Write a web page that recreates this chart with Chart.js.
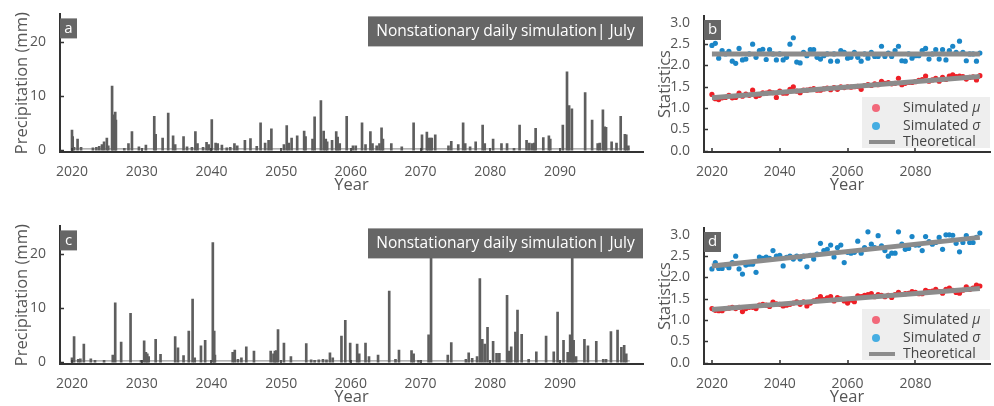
<!DOCTYPE html>
<html>
<head>
<meta charset="utf-8">
<script src="https://cdn.jsdelivr.net/npm/chart.js@4.4.0/dist/chart.umd.min.js"></script>
<style>
  html, body { margin: 0; padding: 0; background: #fff; }
  body { width: 994px; height: 406px; position: relative; overflow: hidden; }
  canvas { position: absolute; }
</style>
</head>
<body>
<canvas id="chartA" width="650" height="200" style="left:0;top:0"></canvas>
<canvas id="chartB" width="344" height="200" style="left:650px;top:0"></canvas>
<canvas id="chartC" width="650" height="200" style="left:0;top:212px"></canvas>
<canvas id="chartD" width="344" height="200" style="left:650px;top:212px"></canvas>
<script>
// ---- daily July rainfall, scenario a (position in decimal years, mm) ----
const spikeYearsA = [2020.0, 2020.1, 2020.3, 2020.8, 2021.3, 2023.0, 2023.5, 2023.9, 2024.3, 2024.6,
  2025.0, 2025.2, 2025.75, 2025.85, 2026.2, 2026.3, 2027.5, 2028.1, 2028.6, 2029.6,
  2030.6, 2031.8, 2032.0, 2033.0, 2033.8, 2034.5, 2034.8, 2036.0, 2036.5, 2037.2,
  2037.7, 2038.0, 2038.8, 2039.3, 2039.6, 2040.05, 2040.6, 2040.9, 2041.5, 2042.2,
  2042.7, 2043.3, 2043.7, 2044.8, 2045.6, 2046.5, 2047.05, 2047.7, 2048.2, 2048.6,
  2050.4, 2050.8, 2051.1, 2051.5, 2052.3, 2053.3, 2053.5, 2054.5, 2054.8, 2055.7,
  2056.1, 2056.4, 2056.6, 2057.3, 2057.9, 2058.1, 2058.4, 2059.4, 2060.3, 2060.7,
  2061.6, 2062.1, 2062.8, 2063.1, 2063.7, 2064.1, 2064.4, 2064.6, 2065.8, 2067.3,
  2069.0, 2070.2, 2070.9, 2071.1, 2071.4, 2071.6, 2072.1, 2074.0, 2074.4, 2075.4,
  2076.1, 2076.4, 2077.1, 2077.9, 2078.9, 2079.2, 2080.4, 2081.6, 2082.4, 2083.4,
  2084.2, 2085.2, 2085.6, 2086.0, 2086.3, 2086.5, 2087.6, 2088.4, 2088.6, 2090.4,
  2091.0, 2091.3, 2091.7, 2093.6, 2094.6, 2095.4, 2095.7, 2096.15, 2096.4, 2096.6,
  2097.4, 2098.1, 2098.7, 2099.3, 2099.5, 2099.8];
const spikeMmA = [3.7, 2.5, 0.5, 2.0, 0.5, 0.4, 0.5, 0.7, 1.0, 1.5,
  2.2, 0.8, 11.8, 6.5, 7.0, 5.5, 0.3, 1.2, 3.4, 0.6,
  0.9, 6.2, 2.9, 2.2, 6.8, 2.6, 1.0, 2.5, 0.6, 0.5,
  3.4, 1.2, 0.5, 1.4, 1.0, 5.6, 1.3, 1.2, 0.9, 0.4,
  0.5, 1.2, 0.8, 1.8, 2.1, 0.7, 5.0, 1.3, 1.8, 3.9,
  1.0, 4.5, 1.3, 2.2, 2.6, 3.5, 2.5, 2.0, 6.1, 9.1,
  3.5, 2.0, 1.5, 1.8, 3.4, 2.4, 1.2, 6.2, 0.8, 0.8,
  5.0, 1.0, 3.4, 1.2, 0.8, 1.2, 4.1, 2.0, 1.2, 0.6,
  5.0, 2.8, 3.3, 2.2, 2.2, 2.2, 2.8, 0.8, 1.6, 1.0,
  5.0, 1.2, 0.6, 1.5, 4.6, 1.2, 2.0, 1.2, 1.2, 0.3,
  4.6, 1.8, 1.3, 1.2, 1.3, 4.0, 2.3, 2.6, 2.0, 4.6,
  14.4, 8.2, 7.6, 10.6, 5.5, 1.2, 1.3, 7.4, 4.3, 4.2,
  1.5, 1.3, 6.2, 2.9, 2.8, 0.8];

// ---- daily July rainfall, scenario c ----
const spikeYearsC = [2020.0, 2020.3, 2020.9, 2021.2, 2021.7, 2022.7, 2023.3, 2024.6, 2025.85, 2026.2,
  2027.05, 2028.4, 2029.9, 2030.35, 2030.6, 2030.8, 2031.0, 2032.0, 2032.7, 2034.8,
  2035.2, 2036.0, 2036.75, 2037.3, 2037.6, 2038.5, 2039.1, 2040.2, 2040.4, 2040.5,
  2043.05, 2043.35, 2043.8, 2044.3, 2045.0, 2046.1, 2048.5, 2048.9, 2049.1, 2049.3,
  2049.55, 2050.4, 2051.4, 2053.6, 2054.3, 2054.8, 2055.4, 2056.0, 2056.5, 2057.0,
  2057.4, 2058.65, 2059.2, 2059.9, 2060.9, 2061.2, 2062.1, 2062.6, 2063.9, 2065.5,
  2066.4, 2066.9, 2068.7, 2069.0, 2069.7, 2071.15, 2071.5, 2073.9, 2074.4, 2076.5,
  2076.9, 2077.4, 2078.1, 2078.5, 2078.85, 2079.2, 2079.6, 2080.4, 2080.9, 2081.3,
  2082.4, 2082.7, 2083.0, 2083.6, 2083.9, 2084.5, 2085.5, 2086.6, 2088.0, 2089.1,
  2089.65, 2090.5, 2091.1, 2091.45, 2091.75, 2091.95, 2092.3, 2093.5, 2094.0, 2095.2,
  2096.2, 2096.6, 2097.3, 2098.25, 2098.8, 2099.2, 2099.5];
const spikeMmC = [0.8, 4.7, 0.5, 0.6, 3.3, 0.6, 0.3, 0.3, 1.3, 10.9,
  3.7, 9.0, 0.3, 3.9, 1.8, 1.5, 1.0, 4.2, 1.4, 4.7,
  2.6, 1.2, 5.7, 11.6, 0.8, 3.0, 4.0, 22.0, 5.7, 1.3,
  1.8, 2.2, 0.5, 0.8, 2.8, 2.0, 2.0, 1.5, 2.0, 2.1,
  6.0, 3.5, 1.0, 3.4, 0.4, 0.3, 0.4, 0.5, 0.4, 1.7,
  0.8, 4.8, 7.7, 3.5, 3.3, 1.5, 3.5, 1.0, 1.3, 13.1,
  0.5, 2.2, 2.1, 1.5, 0.3, 5.0, 24.0, 1.3, 3.6, 0.5,
  1.7, 0.7, 1.0, 15.4, 4.2, 3.3, 6.4, 3.8, 1.6, 1.6,
  12.3, 2.0, 2.8, 5.5, 9.6, 5.1, 0.5, 1.9, 4.8, 1.9,
  9.2, 4.0, 1.8, 5.0, 23.5, 4.0, 1.0, 4.2, 3.0, 3.8,
  0.5, 0.5, 5.6, 5.9, 2.7, 3.1, 1.5];

// drizzle level drawn under every simulated July
const traceMm = 0.2;
const traceSpan = [2020, 2100];

// ---- yearly statistics of the simulated series ----
const statYears = [];
for (let y = 2020; y <= 2099; y++) statYears.push(y);

const muB = [1.32, 1.22, 1.20, 1.24, 1.25, 1.30, 1.24, 1.25, 1.35, 1.28,
  1.33, 1.30, 1.42, 1.27, 1.30, 1.36, 1.35, 1.38, 1.36, 1.25,
  1.40, 1.35, 1.35, 1.44, 1.50, 1.40, 1.36, 1.42, 1.42, 1.44,
  1.46, 1.42, 1.42, 1.45, 1.47, 1.43, 1.48, 1.44, 1.50, 1.48,
  1.50, 1.49, 1.50, 1.51, 1.44, 1.53, 1.55, 1.53, 1.57, 1.55,
  1.63, 1.58, 1.60, 1.57, 1.58, 1.70, 1.55, 1.58, 1.60, 1.60,
  1.62, 1.65, 1.67, 1.75, 1.63, 1.66, 1.70, 1.63, 1.72, 1.67,
  1.75, 1.78, 1.74, 1.75, 1.74, 1.68, 1.72, 1.73, 1.66, 1.76];
const sigmaB = [2.47, 2.52, 2.17, 2.35, 2.27, 2.33, 2.10, 2.05, 2.40, 2.13,
  2.15, 2.27, 2.50, 2.19, 2.35, 2.38, 2.14, 2.37, 2.27, 2.13,
  2.27, 2.13, 2.19, 2.50, 2.65, 2.08, 2.06, 2.31, 2.23, 2.37,
  2.37, 2.19, 2.15, 2.23, 2.27, 2.10, 2.27, 2.10, 2.35, 2.31,
  2.17, 2.19, 2.31, 2.19, 2.10, 2.27, 2.17, 2.31, 2.21, 2.21,
  2.45, 2.21, 2.29, 2.21, 2.35, 2.45, 2.11, 2.10, 2.27, 2.17,
  2.23, 2.23, 2.35, 2.40, 2.15, 2.27, 2.37, 2.15, 2.37, 2.13,
  2.35, 2.45, 2.31, 2.57, 2.31, 2.11, 2.27, 2.27, 2.10, 2.29];
const muD = [1.27, 1.23, 1.22, 1.22, 1.27, 1.28, 1.30, 1.27, 1.30, 1.20,
  1.27, 1.30, 1.30, 1.27, 1.35, 1.37, 1.35, 1.32, 1.42, 1.38,
  1.37, 1.33, 1.35, 1.37, 1.40, 1.43, 1.37, 1.43, 1.33, 1.40,
  1.45, 1.48, 1.55, 1.48, 1.52, 1.55, 1.45, 1.53, 1.50, 1.45,
  1.40, 1.47, 1.43, 1.57, 1.55, 1.58, 1.60, 1.62, 1.55, 1.60,
  1.58, 1.55, 1.58, 1.53, 1.60, 1.65, 1.60, 1.62, 1.63, 1.67,
  1.65, 1.62, 1.62, 1.70, 1.67, 1.68, 1.72, 1.67, 1.63, 1.72,
  1.75, 1.70, 1.65, 1.63, 1.70, 1.78, 1.72, 1.75, 1.82, 1.80];
const sigmaD = [2.20, 2.35, 2.21, 2.21, 2.29, 2.23, 2.35, 2.50, 2.20, 2.08,
  2.29, 2.31, 2.31, 2.12, 2.48, 2.45, 2.48, 2.45, 2.63, 2.50,
  2.52, 2.27, 2.47, 2.50, 2.43, 2.50, 2.43, 2.50, 2.25, 2.52,
  2.43, 2.55, 2.80, 2.63, 2.66, 2.76, 2.48, 2.70, 2.76, 2.35,
  2.59, 2.57, 2.59, 2.85, 2.57, 2.70, 3.07, 2.78, 2.70, 2.98,
  2.74, 2.63, 2.50, 2.57, 2.57, 3.07, 2.78, 2.66, 2.68, 2.96,
  2.76, 2.76, 2.63, 2.96, 2.84, 2.78, 2.82, 2.94, 2.66, 3.00,
  3.00, 2.99, 2.80, 2.60, 2.82, 2.98, 2.82, 2.82, 2.94, 3.04];

// theoretical parameters at the first and last year
const theoryYears = [2020, 2099];
const theoryMuB = [1.24, 1.74];
const theorySigmaB = [2.27, 2.27];
const theoryMuD = [1.25, 1.74];
const theorySigmaD = [2.27, 2.94];

// tick labels
const rainYearTicks = [2020, 2030, 2040, 2050, 2060, 2070, 2080, 2090];
const rainTicks = [0, 10, 20];
const statYearTicks = [2020, 2040, 2060, 2080];
const statTicks = [0, 0.5, 1, 1.5, 2, 2.5, 3];

const panelTitle = 'Nonstationary daily simulation| July';

Chart.defaults.font.family = "'Open Sans', 'Noto Sans', sans-serif";
Chart.defaults.color = '#555';
Chart.defaults.animation = false;

const AXIS = '#333';
const BAR = '#5e5e5e';
const THEORY = '#8c8c8c';
const RED = '#ee1f26';
const BLUE = '#1b86c7';

const toPoints = (xs, ys) => xs.map((x, i) => ({ x: x, y: ys[i] }));

// small inward tick marks, panel letter, title banner and legend
const decor = {
  id: 'decor',
  afterDraw(chart, args, opts) {
    const ctx = chart.ctx;
    const area = chart.chartArea;
    const xs = chart.scales.x, ys = chart.scales.y;
    ctx.save();
    ctx.strokeStyle = AXIS;
    ctx.lineWidth = 1.5;
    ctx.beginPath();
    xs.ticks.forEach(t => {
      const px = Math.round(xs.getPixelForValue(t.value));
      ctx.moveTo(px, area.bottom);
      ctx.lineTo(px, area.bottom - 4);
    });
    ys.ticks.forEach(t => {
      const py = Math.round(ys.getPixelForValue(t.value)) + 0.5;
      ctx.moveTo(area.left, py);
      ctx.lineTo(area.left + 4, py);
    });
    ctx.stroke();

    // panel letter
    ctx.fillStyle = '#666';
    ctx.fillRect(area.left, area.top + 4, 17, 20);
    ctx.fillStyle = '#fff';
    ctx.font = "15px 'Open Sans', sans-serif";
    ctx.textAlign = 'center';
    ctx.textBaseline = 'middle';
    ctx.fillText(opts.tag, area.left + 8.5, area.top + 14);

    if (opts.title) {
      const w = 275;
      ctx.fillStyle = '#666';
      ctx.fillRect(area.right - w, area.top + 2, w, 30);
      ctx.fillStyle = '#fff';
      ctx.font = "15.5px 'Open Sans', sans-serif";
      ctx.fillText(opts.title, area.right - w / 2, area.top + 17);
    }

    if (opts.legend) {
      const w = 128, h = 51;
      const lx = area.right - w, ly = area.bottom - 55;
      ctx.fillStyle = '#eeeeee';
      ctx.fillRect(lx, ly, w, h);
      const rows = [
        { kind: 'dot', color: '#f2687a', sym: 'μ', y: ly + 11 },
        { kind: 'dot', color: '#45ade2', sym: 'σ', y: ly + 29 },
        { kind: 'line', color: THEORY, y: ly + 45 }
      ];
      ctx.textAlign = 'left';
      ctx.textBaseline = 'middle';
      rows.forEach(r => {
        if (r.kind === 'dot') {
          ctx.fillStyle = r.color;
          ctx.beginPath();
          ctx.arc(lx + 14, r.y, 4, 0, Math.PI * 2);
          ctx.fill();
          ctx.fillStyle = '#444';
          ctx.font = "14px 'Open Sans', sans-serif";
          ctx.fillText('Simulated ', lx + 41, r.y);
          const tw = ctx.measureText('Simulated ').width;
          ctx.font = "italic 14px 'Open Sans', sans-serif";
          ctx.fillText(r.sym, lx + 41 + tw, r.y);
        } else {
          ctx.strokeStyle = r.color;
          ctx.lineWidth = 4;
          ctx.beginPath();
          ctx.moveTo(lx + 7, r.y);
          ctx.lineTo(lx + 33, r.y);
          ctx.stroke();
          ctx.fillStyle = '#444';
          ctx.font = "14px 'Open Sans', sans-serif";
          ctx.fillText('Theoretical', lx + 41, r.y);
        }
      });
    }
    ctx.restore();
  }
};

function axisX(min, max, ticks, titlePad) {
  return {
    type: 'linear', min: min, max: max,
    offset: false,
    grid: { display: false, offset: false },
    border: { display: true, color: AXIS, width: 2 },
    afterBuildTicks: s => { s.ticks = ticks.map(v => ({ value: v })); },
    afterFit: s => { s.height = 48; },
    ticks: { font: { size: 14 }, color: '#555', padding: 4, maxRotation: 0, callback: v => String(v) },
    title: { display: true, text: 'Year', font: { size: 16.5 }, color: '#555', padding: { top: 0, bottom: titlePad } }
  };
}

function axisY(min, max, ticks, width, label, titlePad, fmt) {
  return {
    min: min, max: max,
    grid: { display: false },
    border: { display: true, color: AXIS, width: 2 },
    afterBuildTicks: s => { s.ticks = ticks.map(v => ({ value: v })); },
    afterFit: s => { s.width = width; },
    ticks: { font: { size: 14 }, color: '#555', padding: 6, callback: fmt },
    title: { display: true, text: label, font: { size: 16.5 }, color: '#555', padding: { top: titlePad, bottom: 0 } }
  };
}

function rainChart(id, years, mm, tag) {
  new Chart(document.getElementById(id), {
    type: 'bar',
    data: {
      datasets: [
        {
          type: 'bar',
          data: toPoints(years, mm),
          backgroundColor: BAR,
          barThickness: 2,
          order: 1
        },
        {
          type: 'line',
          data: toPoints(traceSpan, [traceMm, traceMm]),
          borderColor: '#9a9a9a',
          borderWidth: 1.2,
          pointRadius: 0,
          order: 2
        }
      ]
    },
    options: {
      responsive: false,
      layout: { padding: { top: 10, right: 7, bottom: 0, left: 0 } },
      plugins: {
        legend: { display: false },
        tooltip: { enabled: false },
        decor: { tag: tag, title: panelTitle }
      },
      scales: {
        x: axisX(2018.28, 2101.9, rainYearTicks, 5),
        y: axisY(-0.36, 25, rainTicks, 60, 'Precipitation (mm)', 12, v => String(v))
      }
    },
    plugins: [decor]
  });
}

function statChart(id, mu, sigma, thMu, thSigma, tag) {
  const lineSet = ys => ({
    type: 'line',
    data: toPoints(theoryYears, ys),
    borderColor: THEORY,
    borderWidth: 5,
    pointRadius: 0,
    order: 0
  });
  const dotSet = (ys, color) => ({
    type: 'scatter',
    data: toPoints(statYears, ys),
    backgroundColor: color,
    borderWidth: 0,
    pointRadius: 2.6,
    order: 1
  });
  new Chart(document.getElementById(id), {
    type: 'scatter',
    data: {
      datasets: [
        lineSet(thMu), lineSet(thSigma),
        dotSet(mu, RED), dotSet(sigma, BLUE)
      ]
    },
    options: {
      responsive: false,
      layout: { padding: { top: 16, right: 2, bottom: 0, left: 0 } },
      plugins: {
        legend: { display: false },
        tooltip: { enabled: false },
        decor: { tag: tag, legend: true }
      },
      scales: {
        x: axisX(2017.66, 2101.99, statYearTicks, 5),
        y: axisY(-0.03, 3.16, statTicks, 54, 'Statistics', 5, v => v.toFixed(1))
      }
    },
    plugins: [decor]
  });
}

rainChart('chartA', spikeYearsA, spikeMmA, 'a');
statChart('chartB', muB, sigmaB, theoryMuB, theorySigmaB, 'b');
rainChart('chartC', spikeYearsC, spikeMmC, 'c');
statChart('chartD', muD, sigmaD, theoryMuD, theorySigmaD, 'd');
</script>
</body>
</html>
